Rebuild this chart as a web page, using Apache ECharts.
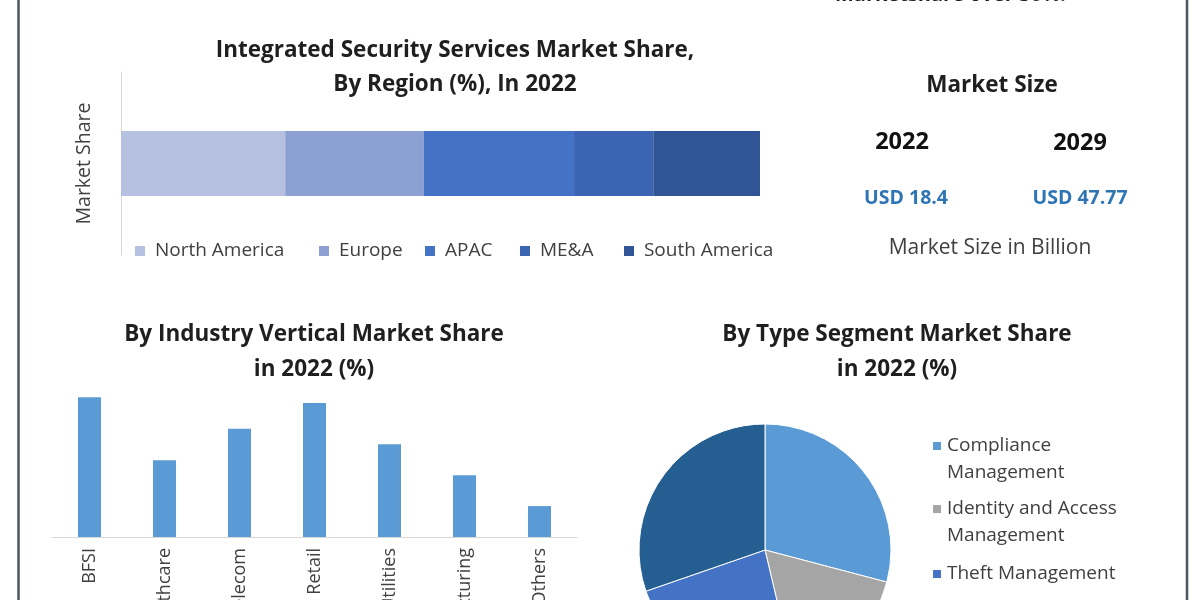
<!DOCTYPE html>
<html>
<head>
<meta charset="utf-8">
<script src="https://cdn.jsdelivr.net/npm/echarts@6/dist/echarts.min.js"></script>
<style>
html,body{margin:0;padding:0;background:#fff;}
#chart{width:1200px;height:600px;}
</style>
</head>
<body>
<div id="chart"></div>
<script>
// ---- data ----
var regions = ['North America', 'Europe', 'APAC', 'ME&A', 'South America'];
var regionShare = [25.7, 21.7, 23.5, 12.4, 16.7];
var regionColors = ['#b6c1e2', '#8da0d3', '#4472c4', '#3b64b2', '#2f5597'];

var industries = ['BFSI', 'Healthcare', 'IT & Telecom', 'Retail', 'Energy & Utilities', 'Manufacturing', 'Others'];
var industryShare = [21.7, 11.9, 16.8, 20.8, 14.4, 9.6, 4.8];

var types = ['Compliance Management', 'Identity and Access Management', 'Theft Management', 'Others'];
var typeShare = [29.1, 17.2, 23.4, 30.3];
var typeColors = ['#5b9bd5', '#a5a5a5', '#4472c4', '#255e91'];

var marketYears = ['2022', '2029'];
var marketValues = ['USD 18.4', 'USD 47.77'];

var FONT = '"Open Sans", Lato, sans-serif';
var chart = echarts.init(document.getElementById('chart'));

var series = [];
regions.forEach(function (r, i) {
  series.push({
    name: r, type: 'bar', stack: 'region', xAxisIndex: 0, yAxisIndex: 0,
    barWidth: 65, data: [regionShare[i]], itemStyle: { color: regionColors[i] },
    silent: true
  });
});
series.push({
  name: 'Industry', type: 'bar', xAxisIndex: 1, yAxisIndex: 1, barWidth: 23,
  data: industryShare, itemStyle: { color: '#5b9bd5' }, silent: true
});
series.push({
  name: 'Type', type: 'pie', center: [765, 550], radius: 126, startAngle: 90,
  clockwise: true, label: { show: false }, labelLine: { show: false }, silent: true,
  itemStyle: { borderColor: '#ffffff', borderWidth: 1 },
  data: types.map(function (t, i) { return { name: t, value: typeShare[i], itemStyle: { color: typeColors[i] } }; })
});

var regionLegendLeft = [135, 319, 425, 520, 624];
var legends = regions.map(function (r, i) {
  return {
    data: [r], left: regionLegendLeft[i], top: 240, padding: 0, selectedMode: false,
    icon: 'rect', itemWidth: 10, itemHeight: 10,
    formatter: function (n) { return ' ' + n; },
    textStyle: { fontFamily: FONT, fontSize: 19, color: '#404040', lineHeight: 22 }
  };
});
// leading blank line keeps the first text line level with the legend square
var typeLegendText = ['\nCompliance\nManagement', '\nIdentity and Access\nManagement', 'Theft Management'];
var typeLegendTop = [405.5, 468.5, 560.5];
for (var k = 0; k < 3; k++) {
  (function (k) {
    legends.push({
      data: [types[k]], left: 931, top: typeLegendTop[k], padding: 0, selectedMode: false,
      icon: 'rect', itemWidth: 10, itemHeight: 10,
      formatter: function () { return typeLegendText[k]; },
      textStyle: { fontFamily: FONT, fontSize: 19, color: '#404040', lineHeight: 27 }
    });
  })(k);
}

function txt(text, x, y, size, weight, color, extra) {
  var o = {
    type: 'text', x: x, y: y, silent: true,
    style: { text: text, fill: color || '#262626', font: (weight || 'normal') + ' ' + size + 'px ' + FONT,
      textAlign: 'center', textVerticalAlign: 'middle' }
  };
  if (extra) { for (var p in extra) o.style[p] = extra[p]; }
  return o;
}

var graphics = [
  txt('Integrated Security Services Market Share,', 455, 51, 22.5, 'bold', '#1f1f1f'),
  txt('By Region (%), In 2022', 455, 85, 22.5, 'bold', '#1f1f1f'),
  txt('Market Size', 992, 86, 22.5, 'bold', '#1f1f1f'),
  txt(marketYears[0], 902, 142, 23.5, 'bold', '#111111'),
  txt(marketYears[1], 1080, 143, 23.5, 'bold', '#111111'),
  txt(marketValues[0], 906, 198, 19.5, 'bold', '#2e75b6'),
  txt(marketValues[1], 1080, 198, 19.5, 'bold', '#2e75b6'),
  txt('Market Size in Billion', 990, 248, 21, 'normal', '#404040'),
  txt('By Industry Vertical Market Share', 314, 335, 22.5, 'bold', '#1f1f1f'),
  txt('in 2022 (%)', 314, 370, 22.5, 'bold', '#1f1f1f'),
  txt('By Type Segment Market Share', 897, 335, 22.5, 'bold', '#1f1f1f'),
  txt('in 2022 (%)', 897, 370, 22.5, 'bold', '#1f1f1f'),
  txt('Marketshare over 30%.', 835, 5.5, 20, 'bold', '#1f1f1f', { textAlign: 'left', textVerticalAlign: 'bottom' }),
  { type: 'line', silent: true, z: 100, shape: { x1: 18.5, y1: 0, x2: 18.5, y2: 600 }, style: { stroke: '#4b5663', lineWidth: 2.5 } },
  { type: 'line', silent: true, z: 100, shape: { x1: 1187, y1: 0, x2: 1187, y2: 600 }, style: { stroke: '#4b5663', lineWidth: 2.5 } }
];

var option = {
  backgroundColor: '#ffffff',
  animation: false,
  grid: [
    { left: 121, width: 639, top: 72, height: 183, containLabel: false, outerBoundsMode: 'none' },
    { left: 52, width: 525, top: 376, height: 161, containLabel: false, outerBoundsMode: 'none' }
  ],
  xAxis: [
    { gridIndex: 0, type: 'value', min: 0, max: 100, show: false },
    { gridIndex: 1, type: 'category', data: industries,
      axisLine: { lineStyle: { color: '#d9d9d9', width: 1 } }, axisTick: { show: false },
      axisLabel: { rotate: 90, margin: 11, fontFamily: FONT, fontSize: 18, color: '#404040', interval: 0 } }
  ],
  yAxis: [
    { gridIndex: 0, type: 'category', data: ['Market Share'],
      axisLine: { show: true, lineStyle: { color: '#d9d9d9', width: 1 } }, axisTick: { show: false },
      axisLabel: { show: false }, name: 'Market Share', nameLocation: 'middle', nameGap: 27, nameRotate: 90,
      nameTextStyle: { fontFamily: FONT, fontSize: 19.5, color: '#404040' } },
    { gridIndex: 1, type: 'value', min: 0, max: 25, show: false, splitLine: { show: false } }
  ],
  legend: legends,
  series: series,
  graphic: graphics
};
chart.setOption(option);
</script>
</body>
</html>
